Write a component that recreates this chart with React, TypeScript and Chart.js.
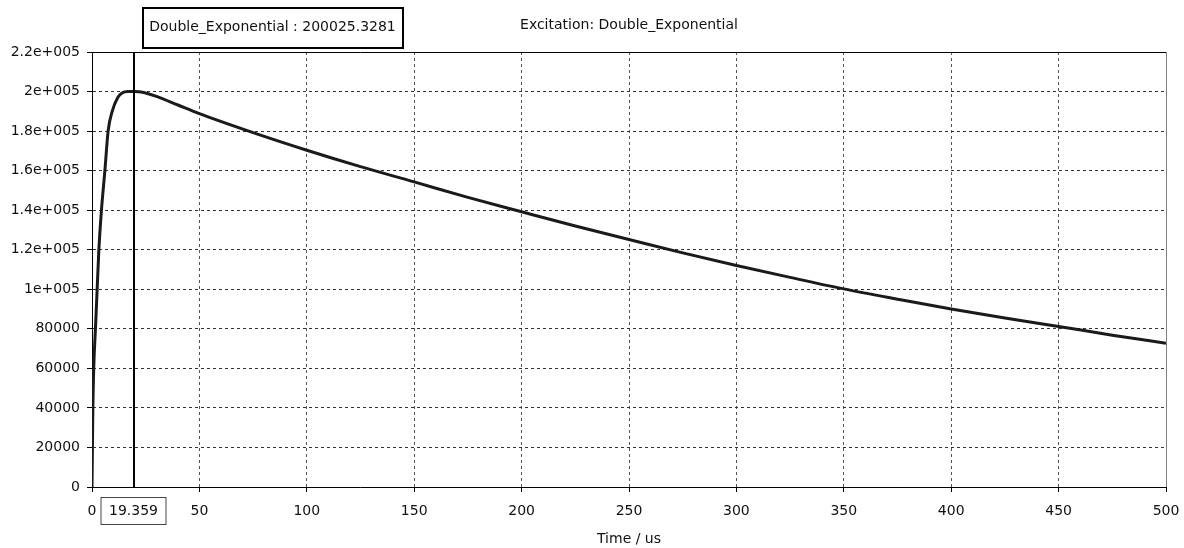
import React, { useEffect, useRef } from "react";
import { Chart, registerables } from "chart.js";

Chart.register(...registerables);

const timeUs: number[] = [
  0, 0.2, 0.4, 0.8, 1.6, 2.4, 3.2, 4.4, 6, 7.5, 9.4, 12, 14, 17, 19.359, 22, 25, 30, 40, 50, 75,
  100, 125, 150, 175, 200, 225, 250, 275, 300, 325, 350, 375, 400, 425, 450, 475, 500,
];
const excitation: number[] = [
  0, 20000, 40000, 60000, 80000, 100000, 120000, 140000, 160000, 180000, 190000, 197000, 199300,
  200000, 200025, 199900, 199300, 197600, 193200, 188800, 179200,
  170300, 162000, 154300, 146500, 139200, 132000, 125200, 118400, 112000, 106000, 100200, 95000,
  90000, 85500, 81200, 76800, 72700,
];
const yTickValues: number[] = [0, 20000, 40000, 60000, 80000, 100000, 120000, 140000, 160000, 180000, 200000, 220000];
const yTickLabels: string[] = [
  "0", "20000", "40000", "60000", "80000", "1e+005", "1.2e+005", "1.4e+005", "1.6e+005", "1.8e+005", "2e+005", "2.2e+005",
];
const cursorTime = 19.359;
const cursorLabel = "19.359";
const cursorReadout = "Double_Exponential : 200025.3281";
const chartTitle = "Excitation: Double_Exponential";
const xAxisTitle = "Time / us";

const FONT = "DejaVu Sans";

const overlayPlugin = {
  id: "overlay",
  afterDraw(chart: any) {
    const { ctx, chartArea, scales } = chart;
    const { left, right, top, bottom } = chartArea;
    ctx.save();
    ctx.setLineDash([]);
    ctx.strokeStyle = "#000";
    ctx.lineWidth = 1;
    ctx.beginPath();
    ctx.moveTo(left, top + 0.5);
    ctx.lineTo(right, top + 0.5);
    ctx.stroke();
    ctx.strokeStyle = "#808080";
    ctx.beginPath();
    ctx.moveTo(right + 0.5, top);
    ctx.lineTo(right + 0.5, bottom);
    ctx.stroke();

    const cx = Math.round(scales.x.getPixelForValue(cursorTime));
    ctx.strokeStyle = "#000";
    ctx.lineWidth = 2;
    ctx.beginPath();
    ctx.moveTo(cx, top);
    ctx.lineTo(cx, bottom);
    ctx.stroke();

    ctx.font = `14px "${FONT}"`;
    ctx.textBaseline = "middle";
    ctx.textAlign = "center";

    const bw = 65;
    const bx = cx - 33.5;
    ctx.fillStyle = "#fff";
    ctx.fillRect(bx, 497, bw, 27);
    ctx.strokeStyle = "#444";
    ctx.lineWidth = 1;
    ctx.strokeRect(bx + 0.5, 497.5, bw, 27);
    ctx.fillStyle = "#111";
    ctx.fillText(cursorLabel, bx + bw / 2 + 0.5, 511);

    const tw = ctx.measureText(cursorReadout).width;
    const tx = 142;
    const boxW = Math.max(261, tw + 12);
    ctx.fillStyle = "#fff";
    ctx.fillRect(tx, 7, boxW, 41);
    ctx.strokeStyle = "#000";
    ctx.lineWidth = 2;
    ctx.strokeRect(tx + 1, 8, boxW - 1, 40);
    ctx.fillStyle = "#111";
    ctx.fillText(cursorReadout, tx + boxW / 2, 27);

    ctx.fillText(chartTitle, (left + right) / 2, 25);
    ctx.restore();
  },
};

export default function App() {
  const ref = useRef<HTMLCanvasElement | null>(null);
  useEffect(() => {
    document.body.style.margin = "0";
    const canvas = ref.current;
    if (!canvas) return;
    const chart = new Chart(canvas, {
      type: "line",
      data: {
        datasets: [
          {
            label: "Double_Exponential",
            data: timeUs.map((t, i) => ({ x: t, y: excitation[i] })),
            borderColor: "#1a1a1a",
            borderWidth: 3,
            pointRadius: 0,
            cubicInterpolationMode: "monotone",
            fill: false,
          },
        ],
      },
      options: {
        animation: false,
        responsive: false,
        maintainAspectRatio: false,
        layout: { padding: { top: 52, right: 18, left: 0, bottom: 0 } },
        plugins: { legend: { display: false }, tooltip: { enabled: false }, title: { display: false } },
        scales: {
          x: {
            type: "linear",
            min: 0,
            max: 500,
            afterFit: (s: any) => {
              s.height = 61;
              s.paddingLeft = 0;
              s.paddingRight = 0;
            },
            ticks: {
              stepSize: 50,
              color: "#111",
              font: { family: FONT, size: 14 },
              padding: 11,
              maxRotation: 0,
            },
            grid: {
              color: "#555",
              lineWidth: 1,
              tickLength: 5,
              tickColor: "#000",
              tickBorderDash: [],
              drawOnChartArea: true,
            },
            border: { display: true, color: "#000", width: 1, dash: [3, 3] },
            title: {
              display: true,
              text: xAxisTitle,
              color: "#111",
              font: { family: FONT, size: 14 },
              padding: { top: 0, bottom: 0 },
            },
          },
          y: {
            type: "linear",
            min: 0,
            max: 220000,
            afterFit: (s: any) => {
              s.width = 92;
              s.paddingTop = 0;
              s.paddingBottom = 0;
            },
            afterBuildTicks: (s: any) => {
              s.ticks = yTickValues.map((v) => ({ value: v }));
            },
            ticks: {
              color: "#111",
              font: { family: FONT, size: 14 },
              padding: 7,
              callback: (v: any) => {
                const i = yTickValues.indexOf(Number(v));
                return i >= 0 ? yTickLabels[i] : "";
              },
            },
            grid: {
              color: "#333",
              lineWidth: 1,
              tickLength: 5,
              tickColor: "#000",
              tickBorderDash: [],
            },
            border: { display: true, color: "#000", width: 1, dash: [3, 3] },
          },
        },
      },
      plugins: [overlayPlugin],
    } as any);
    return () => chart.destroy();
  }, []);
  return (
    <div style={{ width: 1184, height: 548, background: "#fff" }}>
      <canvas ref={ref} width={1184} height={548} style={{ display: "block" }} />
    </div>
  );
}
